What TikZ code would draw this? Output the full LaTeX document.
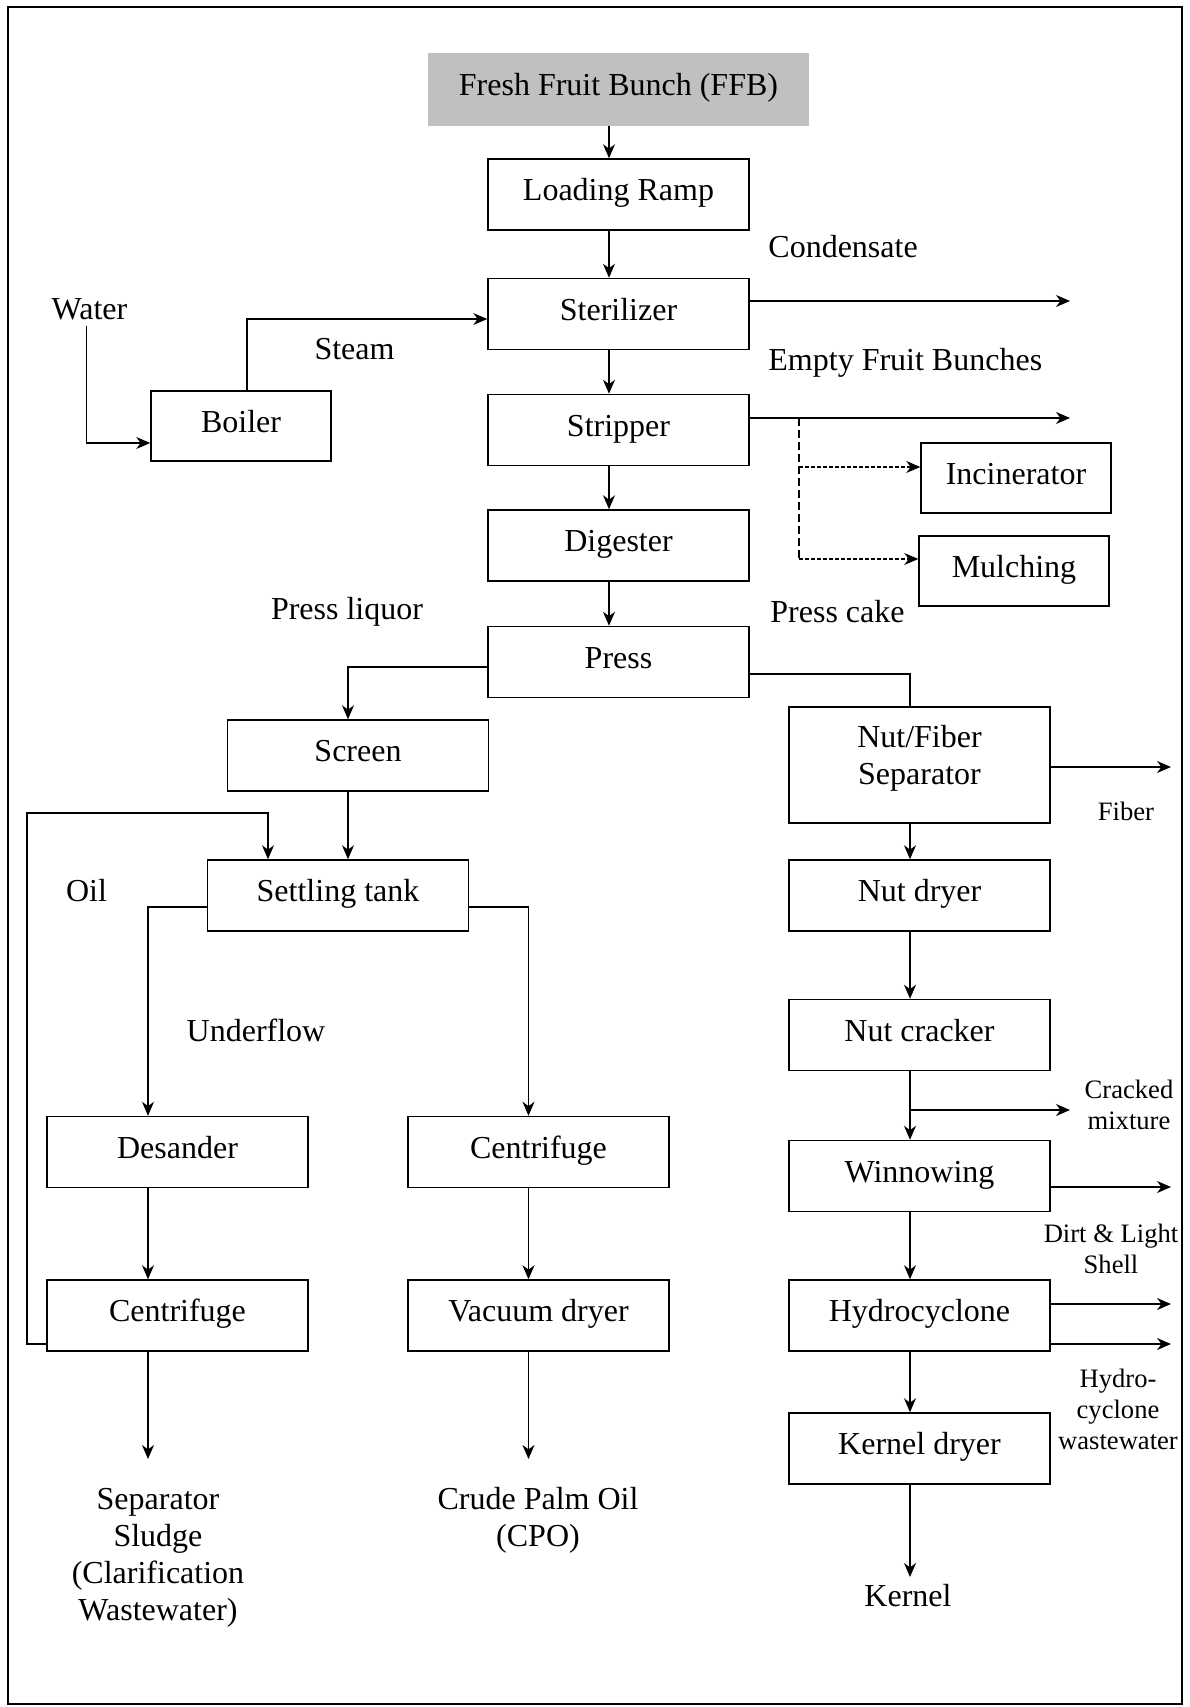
\documentclass[tikz,border=0pt]{standalone}
\usepackage{fontspec}
\setmainfont{Liberation Serif}
\usetikzlibrary{arrows.meta}
\newcommand\mainsz{\fontsize{16}{18.5}\selectfont}
\newcommand\smallsz{\fontsize{13.3}{15.5}\selectfont}
\definecolor{ffbgray}{RGB}{192,192,192}
\tikzset{
  boxbase/.style={draw, line width=0.75pt, minimum width=130.5pt, minimum height=35.5pt, inner sep=0pt, font=\mainsz, align=center},
  box/.style={boxbase, text height=11pt, text depth=5pt},
  lbl/.style={font=\mainsz, inner sep=0pt, align=center},
  sml/.style={font=\smallsz, inner sep=0pt, align=center},
  ln/.style={line width=0.6pt},
  arr/.style={line width=0.6pt, -{Stealth[length=7pt,width=6pt,inset=2.2pt]}},
  dshv/.style={line width=0.6pt, dash pattern=on 4pt off 2pt},
  dshh/.style={line width=0.6pt, dash pattern=on 1.8pt off 1.2pt, -{Stealth[length=7pt,width=6pt,inset=2.2pt]}}
}
\begin{document}
\begin{tikzpicture}[x=0.5pt,y=-0.5pt]
\useasboundingbox (0,0) rectangle (1189,1707);
\draw[line width=0.8pt] (8,7) rectangle (1182,1704);

% center column
\node[fill=ffbgray, minimum width=190.5pt, minimum height=36.5pt, inner sep=0pt, font=\mainsz, text height=11pt, text depth=5pt] (ffb) at (618.5,89.5) {Fresh Fruit Bunch (FFB)};
\node[box] (lr) at (618.5,194.5) {Loading Ramp};
\node[box] (ster) at (618.5,314) {Sterilizer};
\node[box] (strip) at (618.5,430) {Stripper};
\node[box] (dig) at (618.5,545.5) {Digester};
\node[box] (press) at (618.5,662) {Press};

\node[box, minimum width=90pt, minimum height=35pt] (boiler) at (241,426) {Boiler};
\node[box, minimum width=95pt, minimum height=35pt] (incin) at (1016,478) {Incinerator};
\node[box, minimum width=95pt, minimum height=35pt] (mulch) at (1014,571) {Mulching};

% left side
\node[box] (screen) at (358,755.5) {Screen};
\node[box] (settle) at (338,895.5) {Settling tank};
\node[box] (desander) at (177.5,1152) {Desander};
\node[box] (cfm) at (538.5,1152) {Centrifuge};
\node[box] (cfl) at (177.5,1315.5) {Centrifuge};
\node[box] (vd) at (538.5,1315.5) {Vacuum dryer};

% right side
\node[boxbase, minimum height=58pt, text depth=10pt] (nfs) at (919.5,765) {Nut/Fiber\\Separator};
\node[box] (nd) at (919.5,895.5) {Nut dryer};
\node[box] (nc) at (919.5,1035) {Nut cracker};
\node[box] (win) at (919.5,1176) {Winnowing};
\node[box] (hyd) at (919.5,1315.5) {Hydrocyclone};
\node[box] (kd) at (919.5,1448.5) {Kernel dryer};

% labels
\node[lbl] (water) at (89.5,309) {Water};
\node[lbl] (steam) at (354.5,349) {Steam};
\node[lbl, anchor=west] (cond) at (768,247) {Condensate};
\node[lbl, anchor=west] (efb) at (768,363) {Empty Fruit Bunches};
\node[lbl] (pliq) at (347,612) {Press liquor};
\node[lbl, anchor=west] (pcake) at (770,612) {Press cake};
\node[lbl] (oil) at (86.5,891) {Oil};
\node[lbl] (under) at (256,1030) {Underflow};
\node[sml] (fiber) at (1126,811) {Fiber};
\node[sml] (cracked) at (1129,1104.5) {Cracked\\mixture};
\node[sml] (dirt) at (1111,1249) {Dirt \& Light\\Shell};
\node[sml] (hwaste) at (1118,1409) {Hydro-\\cyclone\\wastewater};
\node[lbl] (sludge) at (158,1558) {Separator\\Sludge\\(Clarification\\Wastewater)};
\node[lbl] (cpo) at (538,1520) {Crude Palm Oil\\(CPO)};
\node[lbl] (kernel) at (908,1596) {Kernel};

% free ends
\coordinate (condE) at (1070,301);
\coordinate (efbE) at (1070,418);
\coordinate (fiberE) at (1171,767);
\coordinate (crackE) at (1070,1110);
\coordinate (dirtE) at (1171,1187);
\coordinate (hydE1) at (1171,1304);
\coordinate (hydE2) at (1171,1344);
\coordinate (sludgeE) at (148,1459);
\coordinate (cpoE) at (528.5,1459);
\coordinate (kernelE) at (910,1577);

% center column arrows
\draw[arr] (609,0 |- ffb.south) -- (609,0 |- lr.north);
\draw[arr] (609,0 |- lr.south) -- (609,0 |- ster.north);
\draw[arr] (609,0 |- ster.south) -- (609,0 |- strip.north);
\draw[arr] (609,0 |- strip.south) -- (609,0 |- dig.north);
\draw[arr] (609,0 |- dig.south) -- (609,0 |- press.north);

% steam and water
\draw[arr] (247,0 |- boiler.north) -- (247,319) -- (ster.west |- 0,319);
\draw[arr] (86.5,326) -- (86.5,443) -- (boiler.west |- 0,443);

% outputs
\draw[arr] (ster.east |- condE) -- (condE);
\draw[arr] (strip.east |- efbE) -- (efbE);
\draw[dshv] (799,418) -- (799,559);
\draw[dshh] (799,467) -- (incin.west |- 0,467);
\draw[dshh] (799,559) -- (mulch.west |- 0,559);

% press splits
\draw[arr] (press.west |- 0,667) -- (348,667) -- (348,0 |- screen.north);
\draw[ln] (press.east |- 0,674) -- (910,674) -- (910,0 |- nfs.north);

% oil line
\draw[arr] (348,0 |- screen.south) -- (348,0 |- settle.north);
\draw[arr] (cfl.west |- 0,1344) -- (27,1344) -- (27,813) -- (268,813) -- (268,0 |- settle.north);
\draw[arr] (settle.west |- 0,907) -- (148,907) -- (148,0 |- desander.north);
\draw[arr] (settle.east |- 0,907) -- (528.5,907) -- (528.5,0 |- cfm.north);
\draw[arr] (148,0 |- desander.south) -- (148,0 |- cfl.north);
\draw[arr] (528.5,0 |- cfm.south) -- (528.5,0 |- vd.north);
\draw[arr] (148,0 |- cfl.south) -- (sludgeE);
\draw[arr] (528.5,0 |- vd.south) -- (cpoE);

% nut line
\draw[arr] (nfs.east |- fiberE) -- (fiberE);
\draw[arr] (910,0 |- nfs.south) -- (910,0 |- nd.north);
\draw[arr] (910,0 |- nd.south) -- (910,0 |- nc.north);
\draw[arr] (910,0 |- nc.south) -- (910,0 |- win.north);
\draw[arr] (910,1110) -- (crackE);
\draw[arr] (win.east |- dirtE) -- (dirtE);
\draw[arr] (910,0 |- win.south) -- (910,0 |- hyd.north);
\draw[arr] (hyd.east |- hydE1) -- (hydE1);
\draw[arr] (hyd.east |- hydE2) -- (hydE2);
\draw[arr] (910,0 |- hyd.south) -- (910,0 |- kd.north);
\draw[arr] (910,0 |- kd.south) -- (kernelE);
\end{tikzpicture}
\end{document}
